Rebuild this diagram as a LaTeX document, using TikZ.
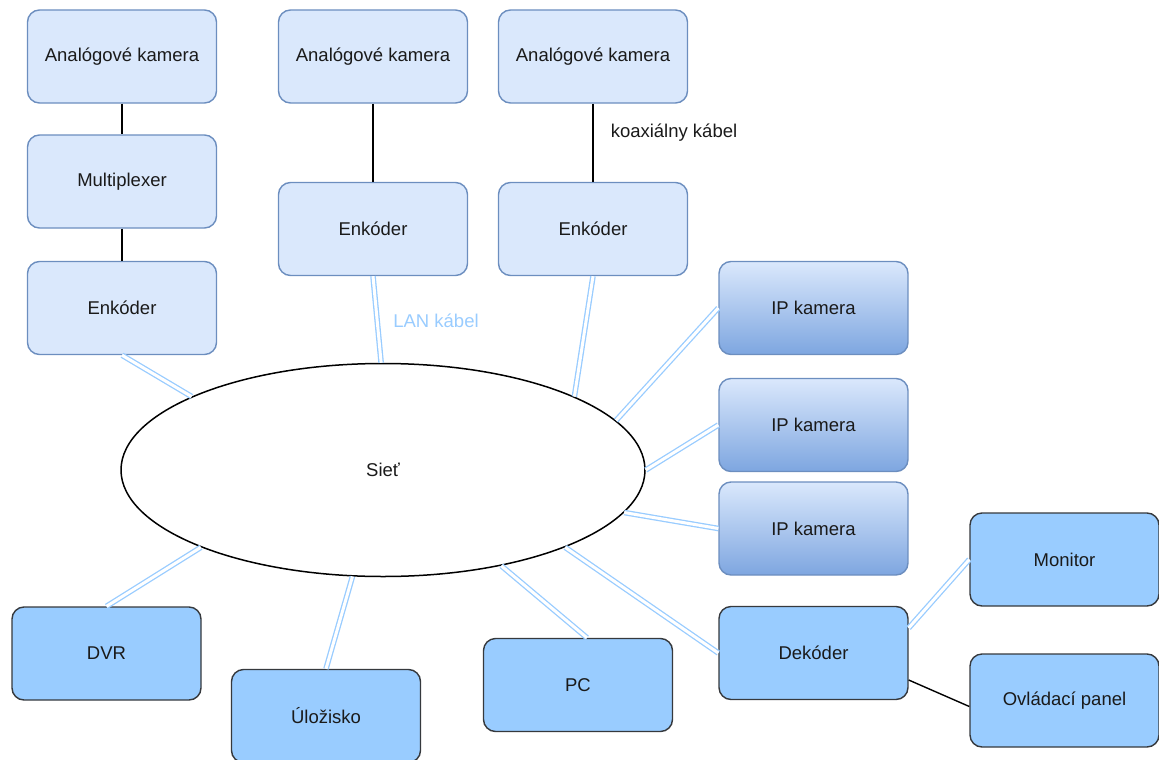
\documentclass[tikz,border=0pt]{standalone}
\usepackage{fontspec}
\setmainfont{Liberation Sans}
\usetikzlibrary{shapes.geometric}
\definecolor{lightfill}{HTML}{DAE8FC}
\definecolor{lightline}{HTML}{6C8EBF}
\definecolor{gradbot}{HTML}{7EA6E0}
\definecolor{darkfill}{HTML}{99CCFF}
\definecolor{darkline}{HTML}{36393D}
\definecolor{lan}{HTML}{99CCFF}
\definecolor{ink}{HTML}{1A1A1A}
\begin{document}
\begin{tikzpicture}[x=1pt,y=-1pt,
  every node/.style={font=\fontsize{18.5}{22}\selectfont, text=ink},
  box/.style={rectangle, rounded corners=12pt, minimum width=189pt, minimum height=93pt, line width=1.4pt, inner sep=0pt},
  lightbox/.style={box, draw=lightline, fill=lightfill},
  ipbox/.style={box, draw=lightline, top color=lightfill, bottom color=gradbot},
  darkbox/.style={box, draw=darkline, fill=darkfill},
  coax/.style={draw=black, line width=1.8pt},
  lanwire/.style={draw=lan, line width=1.3pt, double=white, double distance=3pt},
]
\useasboundingbox (0,0) rectangle (1159,760);

% analog branch with multiplexer
\node[lightbox] (cam1) at (122,56.5) {Analógové kamera};
\node[lightbox] (mux)  at (122,181.5) {Multiplexer};
\node[lightbox] (enc1) at (122,308) {Enkóder};

% analog branches with encoders
\node[lightbox] (cam2) at (373,56.5) {Analógové kamera};
\node[lightbox] (enc2) at (373,229) {Enkóder};
\node[lightbox] (cam3) at (593,56.5) {Analógové kamera};
\node[lightbox] (enc3) at (593,229) {Enkóder};

% IP cameras
\node[ipbox] (ip1) at (813.5,308) {IP kamera};
\node[ipbox] (ip2) at (813.5,425) {IP kamera};
\node[ipbox] (ip3) at (813.5,528.5) {IP kamera};

% network
\node[ellipse, draw=black, fill=white, line width=1.5pt, minimum width=524pt, minimum height=213pt, inner sep=0pt] (net) at (383,470) {Sieť};

% receiving side
\node[darkbox] (dvr) at (106.5,653.5) {DVR};
\node[darkbox] (store) at (326,716) {Úložisko};
\node[darkbox] (pc) at (578,685) {PC};
\node[darkbox] (dec) at (813.5,653) {Dekóder};
\node[darkbox] (mon) at (1064.5,559.5) {Monitor};
\node[darkbox] (panel) at (1064.5,700.5) {Ovládací panel};

% cable labels
\node[text=lan] (lanlbl) at (436,321) {LAN kábel};
\node (coaxlbl) at (674,133) {koaxiálny kábel};

% coaxial cables
\draw[coax] (cam1.south) -- (mux.north);
\draw[coax] (mux.south) -- (enc1.north);
\draw[coax] (cam2.south) -- (enc2.north);
\draw[coax] (cam3.south) -- (enc3.north);
\draw[coax, line width=1.4pt] ([yshift=-27pt]dec.east) -- ([yshift=-6pt]panel.west);

% LAN cables
\draw[lanwire] (enc1.south) -- (net.159);
\draw[lanwire] (enc2.south) -- (net.91);
\draw[lanwire] (enc3.south) -- (net.21);
\draw[lanwire] (ip1.west) -- (net.12);
\draw[lanwire] (ip2.west) -- (net.0.5);
\draw[lanwire] (ip3.west) -- (net.-10);
\draw[lanwire] (dec.west) -- (net.-23);
\draw[lanwire] ([xshift=9pt]pc.north) -- (net.-39);
\draw[lanwire] (store.north) -- (net.-106);
\draw[lanwire] (dvr.north) -- (net.-157);
\draw[lanwire] ([yshift=25pt]dec.east) -- (mon.west);
\end{tikzpicture}
\end{document}
